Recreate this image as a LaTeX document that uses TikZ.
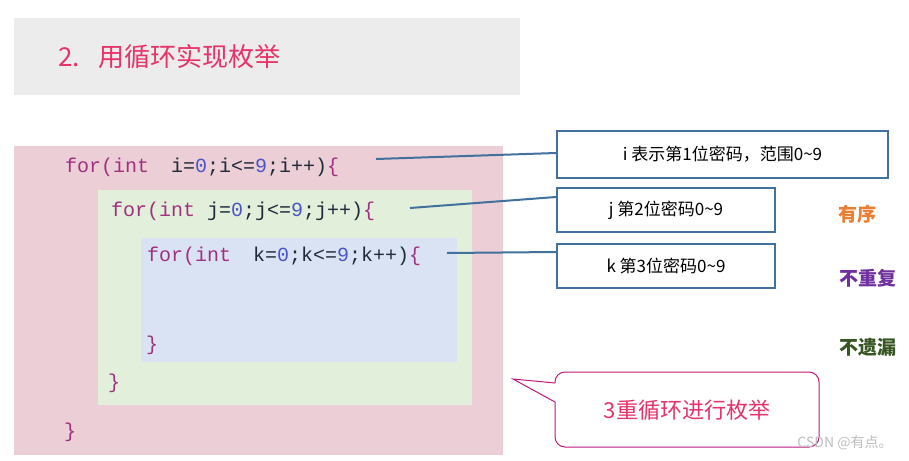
\documentclass[tikz,border=0pt]{standalone}
\usepackage{fontspec}
\setmainfont{Liberation Sans}
\setmonofont{Liberation Mono}
\newfontfamily\cjk{Noto Sans CJK SC}
\definecolor{titlepink}{HTML}{E8336A}
\definecolor{kw}{HTML}{A1307F}
\definecolor{num}{HTML}{4A55C8}
\definecolor{txt}{HTML}{1F2A3A}
\definecolor{boxblue}{HTML}{41719C}
\definecolor{calloutc}{HTML}{C0187C}
\definecolor{titlebg}{HTML}{ECECEC}
\definecolor{pinkbg}{HTML}{EBCED6}
\definecolor{greenbg}{HTML}{E2EFDA}
\definecolor{bluebg}{HTML}{DAE3F3}
\definecolor{sorange}{HTML}{ED7D31}
\definecolor{spurple}{HTML}{7030A0}
\definecolor{sgreen}{HTML}{375623}
\definecolor{wmgray}{HTML}{BEBEBE}
\newcommand{\K}[1]{\textcolor{kw}{#1}}
\newcommand{\N}[1]{\textcolor{num}{#1}}
\begin{document}
\begin{tikzpicture}[x=1pt,y=-1pt,
  code/.style={anchor=west,inner sep=0pt,font=\ttfamily\fontsize{20}{20}\selectfont,text=txt},
  infobox/.style={draw=boxblue,line width=2pt,fill=white,inner sep=0pt,font=\cjk\fontsize{17}{17}\selectfont},
  link/.style={draw=boxblue,line width=2pt},
  side/.style={font=\cjk\bfseries\fontsize{19}{19}\selectfont}]
\useasboundingbox (0,0) rectangle (909,460);
\fill[white] (0,0) rectangle (909,460);
\fill[titlebg] (14,18) rectangle (520,95);
\node[anchor=west,text=titlepink,font=\cjk\fontsize{26}{26}\selectfont] (title) at (55,57) {2.\hspace{18pt}用循环实现枚举};
\fill[pinkbg] (14,146) rectangle (503,455);
\fill[greenbg] (98,190) rectangle (472,405);
\fill[bluebg] (141,238) rectangle (457,362);
\node[code] (ci) at (65,167) {\K{for(int}\hspace{0.5em} i=\N{0};i<=\N{9};i++)\K{\{}};
\node[code] (cj) at (111,211) {\K{for(int} j=\N{0};j<=\N{9};j++)\K{\{}};
\node[code] (ck) at (147,256) {\K{for(int}\hspace{0.5em} k=\N{0};k<=\N{9};k++)\K{\{}};
\node[code] (b1) at (146,345) {\K{\}}};
\node[code] (b2) at (108,383) {\K{\}}};
\node[code] (b3) at (64,432) {\K{\}}};
\node[infobox,minimum width=331pt,minimum height=47pt] (bi) at (722.5,154.5) {i 表示第1位密码，范围0\textasciitilde9};
\node[infobox,minimum width=218pt,minimum height=44pt] (bj) at (666,210) {j 第2位密码0\textasciitilde9};
\node[infobox,minimum width=218pt,minimum height=44pt] (bk) at (666,266) {k 第3位密码0\textasciitilde9};
\coordinate (li) at (376,159);
\coordinate (lj) at (410,208);
\coordinate (lk) at (447,253);
\draw[link] (li) -- (bi.west|-0,153);
\draw[link] (lj) -- (bj.west|-0,197);
\draw[link] (lk) -- (bk.west|-0,252);
\node[side,text=sorange] (s1) at (857,214) {有序};
\node[side,text=spurple] (s2) at (868,278) {不重复};
\node[side,text=sgreen] (s3) at (868,347) {不遗漏};
\draw[calloutc,line width=1pt,fill=white,rounded corners=10pt]
  (555,383) -- (555,372) -- (819,372) -- (819,447) -- (555,447) -- (555,402);
\draw[calloutc,line width=1pt,fill=white] (555,383) -- (513,379) -- (555,402);
\fill[white] (556,382) rectangle (557,403);
\node[text=titlepink,font=\cjk\fontsize{22}{22}\selectfont] (cl) at (687,410) {3重循环进行枚举};
\node[text=wmgray,font=\cjk\fontsize{14}{14}\selectfont] (wm) at (845,443) {CSDN @有点。};
\end{tikzpicture}
\end{document}
